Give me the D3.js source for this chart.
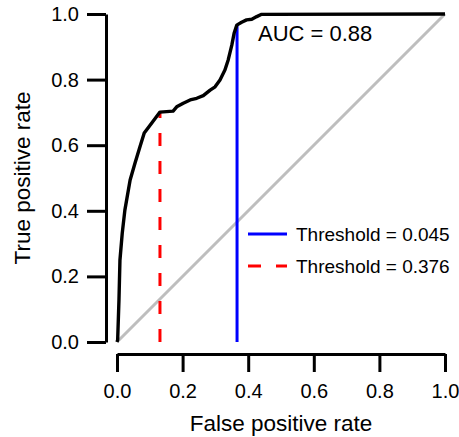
<!DOCTYPE html>
<html>
<head>
<meta charset="utf-8">
<script src="https://cdn.jsdelivr.net/npm/d3@7"></script>
<style>
	body { margin: 0; background: #fff; }
	text { font-family: "Liberation Sans", Arial, sans-serif; fill: #000; }
</style>
</head>
<body>
<div id="chart"></div>
<script>
// ROC curve
var fpr = [0, 0.002, 0.006, 0.009, 0.016, 0.024, 0.040, 0.055, 0.070, 0.083, 0.106, 0.131,
	0.171, 0.182, 0.202, 0.223, 0.243, 0.263, 0.284, 0.299, 0.314, 0.329, 0.339, 0.350,
	0.357, 0.365, 0.380, 0.395, 0.411, 0.426, 0.441, 1];
var tpr = [0, 0.006, 0.128, 0.25, 0.332, 0.402, 0.494, 0.546, 0.595, 0.637, 0.668, 0.701,
	0.704, 0.717, 0.728, 0.738, 0.743, 0.751, 0.768, 0.778, 0.799, 0.829, 0.860, 0.905,
	0.941, 0.966, 0.975, 0.982, 0.984, 0.992, 0.999, 1];

var thresholdLabels = ['Threshold = 0.045', 'Threshold = 0.376'];
var thresholdFpr = [0.366, 0.131];
var thresholdTpr = [0.966, 0.701];
var thresholdColors = ['#0000ff', '#ff0000'];
var thresholdDash = [null, '13,15'];

var tickValues = [0, 0.2, 0.4, 0.6, 0.8, 1];
var aucLabel = 'AUC = 0.88';

var width = 459, height = 437;
var margin = {top: 14, right: 14, bottom: 95, left: 117};

var svg = d3.select('#chart')
	.append('svg')
		.attr('width', width)
		.attr('height', height);

var x = d3.scaleLinear()
	.domain([0, 1])
	.range([margin.left, width - margin.right]);

var y = d3.scaleLinear()
	.domain([0, 1])
	.range([height - margin.bottom, margin.top]);

// axes, R style: detached from the plot region
var xAxis = svg.append('g')
	.attr('transform', `translate(0,${y(0) + 12})`)
	.call(d3.axisBottom(x).tickValues(tickValues).tickFormat(d3.format('.1f'))
		.tickSize(18).tickPadding(12).tickSizeOuter(0));

var yAxis = svg.append('g')
	.attr('transform', `translate(${x(0) - 11},0)`)
	.call(d3.axisLeft(y).tickValues(tickValues).tickFormat(d3.format('.1f'))
		.tickSize(19).tickPadding(8).tickSizeOuter(0));

[xAxis, yAxis].forEach(function(g){
	g.select('.domain').attr('stroke', '#000').attr('stroke-width', 3);
	g.selectAll('.tick line').attr('stroke', '#000').attr('stroke-width', 3);
	g.selectAll('.tick text')
		.style('font-family', '"Liberation Sans", Arial, sans-serif')
		.style('font-size', '20px')
		.attr('fill', '#000');
});

// diagonal reference
svg.append('line')
	.attr('x1', x(0)).attr('y1', y(0))
	.attr('x2', x(1)).attr('y2', y(1))
	.style('stroke', '#bebebe')
	.style('stroke-width', 3);

// threshold markers
thresholdFpr.forEach(function(f, i){
	svg.append('line')
		.attr('x1', x(f)).attr('y1', y(0))
		.attr('x2', x(f)).attr('y2', y(thresholdTpr[i]))
		.style('stroke', thresholdColors[i])
		.style('stroke-width', 3)
		.style('stroke-dasharray', thresholdDash[i]);
});

// roc curve
var rocLine = d3.line()
	.x(function(d, i){ return x(fpr[i]); })
	.y(function(d, i){ return y(tpr[i]); });

svg.append('path')
	.datum(fpr)
	.attr('d', rocLine)
	.style('fill', 'none')
	.style('stroke', '#000')
	.style('stroke-width', 3.4)
	.style('stroke-linejoin', 'round');

svg.append('text')
	.attr('x', 258)
	.attr('y', 41)
	.style('font-size', '22px')
	.text(aucLabel);

// legend
var legend = svg.append('g').attr('transform', 'translate(248,234)');
thresholdLabels.forEach(function(lab, i){
	var row = legend.append('g').attr('transform', `translate(0,${i * 32})`);
	row.append('line')
		.attr('x1', 0).attr('x2', 39)
		.style('stroke', thresholdColors[i])
		.style('stroke-width', 3)
		.style('stroke-dasharray', thresholdDash[i]);
	row.append('text')
		.attr('x', 48)
		.attr('dy', '0.35em')
		.style('font-size', '19px')
		.text(lab);
});

// axis titles
svg.append('text')
	.attr('x', x(0.5))
	.attr('y', 431)
	.attr('text-anchor', 'middle')
	.style('font-size', '22.5px')
	.text('False positive rate');

svg.append('text')
	.attr('transform', `translate(30,${y(0.5)}) rotate(-90)`)
	.attr('text-anchor', 'middle')
	.style('font-size', '22.5px')
	.text('True positive rate');
</script>
</body>
</html>
